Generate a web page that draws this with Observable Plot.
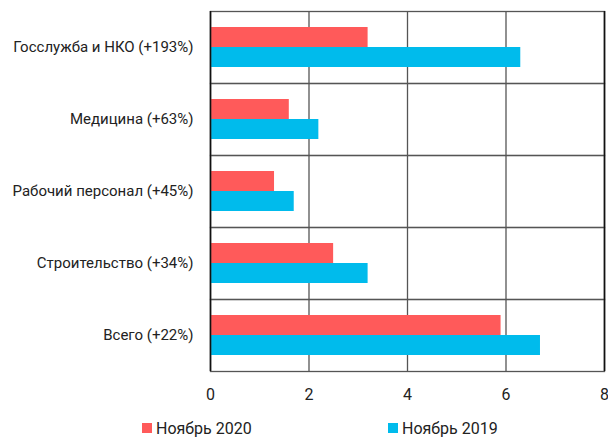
<!DOCTYPE html>
<html>
<head>
<meta charset="utf-8">
<script src="https://cdn.jsdelivr.net/npm/d3@7"></script>
<script src="https://cdn.jsdelivr.net/npm/@observablehq/plot@0.6"></script>
<style>
  html, body { margin: 0; padding: 0; background: white; }
  #wrap { position: relative; width: 608px; height: 442px; font-family: Roboto, "Noto Sans", sans-serif; color: #222; }
  .legend { position: absolute; top: 418px; left: 0; width: 608px; height: 20px; font-size: 16px; }
  .item { position: absolute; top: 0; height: 20px; display: flex; align-items: center; }
  .sw { width: 10px; height: 10px; margin-right: 4px; }
  svg g[aria-label="x-axis tick label"] text { font-size: 16px; }
</style>
</head>
<body>
<div id="wrap"></div>
<script>
const categories = ["Госслужба и НКО (+193%)", "Медицина (+63%)", "Рабочий персонал (+45%)", "Строительство (+34%)", "Всего (+22%)"];
const nov2020 = [3.2, 1.6, 1.3, 2.5, 5.9];
const nov2019 = [6.3, 2.2, 1.7, 3.2, 6.7];
const series = ["Ноябрь 2020", "Ноябрь 2019"];
const colors = ["#ff5a5a", "#00bbec"];
const xTicks = [0, 2, 4, 6, 8];

const data = categories.flatMap((c, i) => [
  {cat: c, series: series[0], value: nov2020[i]},
  {cat: c, series: series[1], value: nov2019[i]}
]);

const chart = Plot.plot({
  width: 608,
  height: 412,
  marginLeft: 210,
  marginRight: 4,
  marginTop: 9,
  marginBottom: 40,
  style: {fontFamily: "Roboto, 'Noto Sans', sans-serif", fontSize: "15px", color: "#222", background: "white"},
  x: {domain: [0, 8], ticks: xTicks, label: null, tickSize: 0, tickPadding: 17},
  fy: {domain: categories, paddingInner: 0, paddingOuter: 0, label: null, axis: "left", tickSize: 0, tickPadding: 17},
  y: {domain: series, paddingInner: 0, paddingOuter: 0.77, axis: null},
  color: {domain: series, range: colors},
  marks: [
    Plot.gridX(xTicks, {stroke: "#555", strokeOpacity: 1, strokeWidth: 1.3}),
    Plot.barX(data, {x: "value", y: "series", fy: "cat", fill: "series"}),
    Plot.frame({stroke: "#555", strokeWidth: 1.3}),
    Plot.ruleX([0, 8], {stroke: "#111", strokeWidth: 1.5})
  ]
});

const wrap = document.getElementById("wrap");
wrap.appendChild(chart);

const legend = document.createElement("div");
legend.className = "legend";
const lefts = [142, 388];
series.forEach((s, i) => {
  const it = document.createElement("div");
  it.className = "item";
  it.style.left = lefts[i] + "px";
  const sw = document.createElement("span");
  sw.className = "sw";
  sw.style.background = colors[i];
  const t = document.createElement("span");
  t.textContent = s;
  it.appendChild(sw);
  it.appendChild(t);
  legend.appendChild(it);
});
wrap.appendChild(legend);
</script>
</body>
</html>
